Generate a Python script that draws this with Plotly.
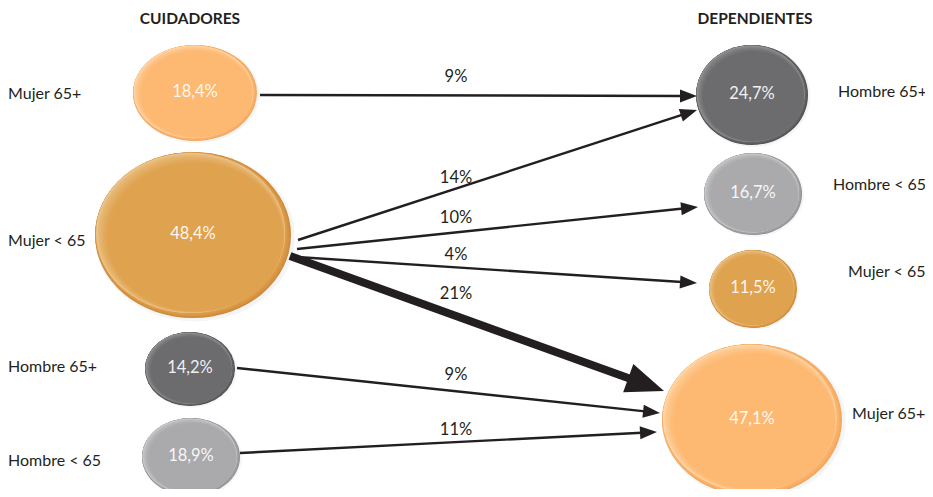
import math
import plotly.graph_objects as go

# data
source_names = ["Mujer 65+", "Mujer < 65", "Hombre 65+", "Hombre < 65"]
source_pct = [18.4, 48.4, 14.2, 18.9]
dest_names = ["Hombre 65+", "Hombre < 65", "Mujer < 65", "Mujer 65+"]
dest_pct = [24.7, 16.7, 11.5, 47.1]
flow_from = [0, 1, 1, 1, 1, 2, 3]
flow_to = [0, 0, 1, 2, 3, 3, 3]
flow_pct = [9, 14, 10, 4, 21, 9, 11]

# layout (pixel space of the picture)
src_xy = [(195, 93), (193, 235), (190, 369), (191, 457)]
src_r = [(62, 48), (98, 83), (45, 37), (49, 39)]
dst_xy = [(752, 95), (753, 194), (753, 289), (752, 420)]
dst_r = [(56, 50), (49, 41), (44, 39), (90, 76)]
src_label_xy = [(8, 95), (8, 242), (8, 368), (8, 462)]
dst_label_xy = [(838, 93), (833, 186), (848, 273), (852, 415)]
arrow_start = [(260, 95), (298, 240), (297, 249), (297, 257), (290, 256), (237, 368), (240, 453)]
arrow_end = [(697, 96), (697, 110), (698, 207), (697, 283), (664, 391), (660, 413), (657, 432)]
arrow_label_xy = [(456, 78), (456, 179), (456, 219), (456, 256), (456, 295), (456, 376), (456, 431)]

# page body has an 8px margin: shrink the figure so the picture lines up
PAD = 8

# colours: (main, light, dark)
PAL = {
    "Mujer 65+": ("#FDB872", "#FED7A8", "#F2A55C"),
    "Mujer < 65": ("#DFA24F", "#EBC48A", "#CF8738"),
    "Hombre 65+": ("#6C6C6E", "#939395", "#505052"),
    "Hombre < 65": ("#AAAAAD", "#CBCBCD", "#909094"),
}
TXT = "#231F20"
FONT = "Lato, 'Open Sans', sans-serif"


def hex2rgb(h):
    h = h.lstrip("#")
    return tuple(int(h[i:i + 2], 16) for i in (0, 2, 4))


def mix(a, b, t):
    ra, rb = hex2rgb(a), hex2rgb(b)
    return "rgb({},{},{})".format(*[round(ra[i] + (rb[i] - ra[i]) * t) for i in range(3)])


def bubble_shapes(cx, cy, rx, ry, cols):
    main, light, dark = cols
    shapes = []
    dx, dy = 0.7, 0.7

    def ell(s, o, col):
        x = cx + o * rx * dx
        y = cy + o * ry * dy
        shapes.append(dict(type="circle", xref="x", yref="y", x0=x - s * rx, x1=x + s * rx,
                           y0=y - s * ry, y1=y + s * ry, fillcolor=col, line=dict(width=0), layer="below"))

    # soft shadow
    ell(1.02, 0.03, "rgba(0,0,0,0.04)")
    n = 6
    # dark rim at bottom-right (tangent at top-left)
    for k in range(n):
        t = k / (n - 1)
        s = 1.0 - 0.035 * t
        ell(s, s - 1.0, mix(dark, main, t ** 0.7))
    # light rim at top-left (tangent at bottom-right)
    top = 1.0 - 0.035
    edge = 2 * top - 1.0
    for k in range(n + 2):
        t = k / (n + 1)
        s = top - 0.07 * t
        ell(s, edge - s, mix(light, main, t ** 0.6))
    return shapes


fig = go.Figure()
shapes = []
for i, nm in enumerate(source_names):
    shapes += bubble_shapes(*src_xy[i], *src_r[i], PAL[nm])
for i, nm in enumerate(dest_names):
    shapes += bubble_shapes(*dst_xy[i], *dst_r[i], PAL[nm])

# arrows
for i, p in enumerate(flow_pct):
    (x0, y0), (x1, y1) = arrow_start[i], arrow_end[i]
    thick = p >= 20
    w = 8 if thick else 2.4
    hl = 38 if thick else 17
    hw = 15 if thick else 6.5
    L = math.hypot(x1 - x0, y1 - y0)
    ux, uy = (x1 - x0) / L, (y1 - y0) / L
    bx, by = x1 - ux * hl, y1 - uy * hl
    shapes.append(dict(type="line", xref="x", yref="y", x0=x0, y0=y0, x1=bx + ux * 2, y1=by + uy * 2,
                       line=dict(color=TXT, width=w)))
    path = "M{},{} L{},{} L{},{} Z".format(x1, y1, bx - uy * hw, by + ux * hw, bx + uy * hw, by - ux * hw)
    shapes.append(dict(type="path", xref="x", yref="y", path=path, fillcolor=TXT, line=dict(width=0)))

fmt = lambda v: "{:.1f}%".format(v).replace(".", ",")

fig.add_trace(go.Scatter(
    x=[p[0] for p in src_xy] + [p[0] for p in dst_xy],
    y=[p[1] for p in src_xy] + [p[1] for p in dst_xy],
    mode="text", text=[fmt(v) for v in source_pct + dest_pct],
    textfont=dict(color="rgba(255,255,255,0.92)", size=16.5, family=FONT), hoverinfo="skip"))

fig.add_trace(go.Scatter(
    x=[p[0] for p in src_label_xy] + [p[0] for p in dst_label_xy],
    y=[p[1] for p in src_label_xy] + [p[1] for p in dst_label_xy],
    mode="text", text=source_names + dest_names, textposition="middle right",
    textfont=dict(color=TXT, size=16, family=FONT), hoverinfo="skip", cliponaxis=False))

fig.add_trace(go.Scatter(
    x=[p[0] for p in arrow_label_xy], y=[p[1] for p in arrow_label_xy],
    mode="text", text=["{}%".format(v) for v in flow_pct],
    textfont=dict(color=TXT, size=16.5, family=FONT), hoverinfo="skip"))

fig.add_trace(go.Scatter(
    x=[190, 755], y=[20, 20], mode="text",
    text=["<b>CUIDADORES</b>", "<b>DEPENDIENTES</b>"],
    textfont=dict(color=TXT, size=15.5, family=FONT), hoverinfo="skip"))

fig.update_layout(
    shapes=shapes,
    width=933 - PAD, height=497 - 2 * PAD, autosize=False,
    margin=dict(l=0, r=0, t=0, b=0),
    plot_bgcolor="white", paper_bgcolor="white",
    showlegend=False,
)
fig.update_xaxes(range=[PAD, 933], visible=False, fixedrange=True)
fig.update_yaxes(range=[497 - PAD, PAD], visible=False, fixedrange=True)

fig.write_html("out.html")
